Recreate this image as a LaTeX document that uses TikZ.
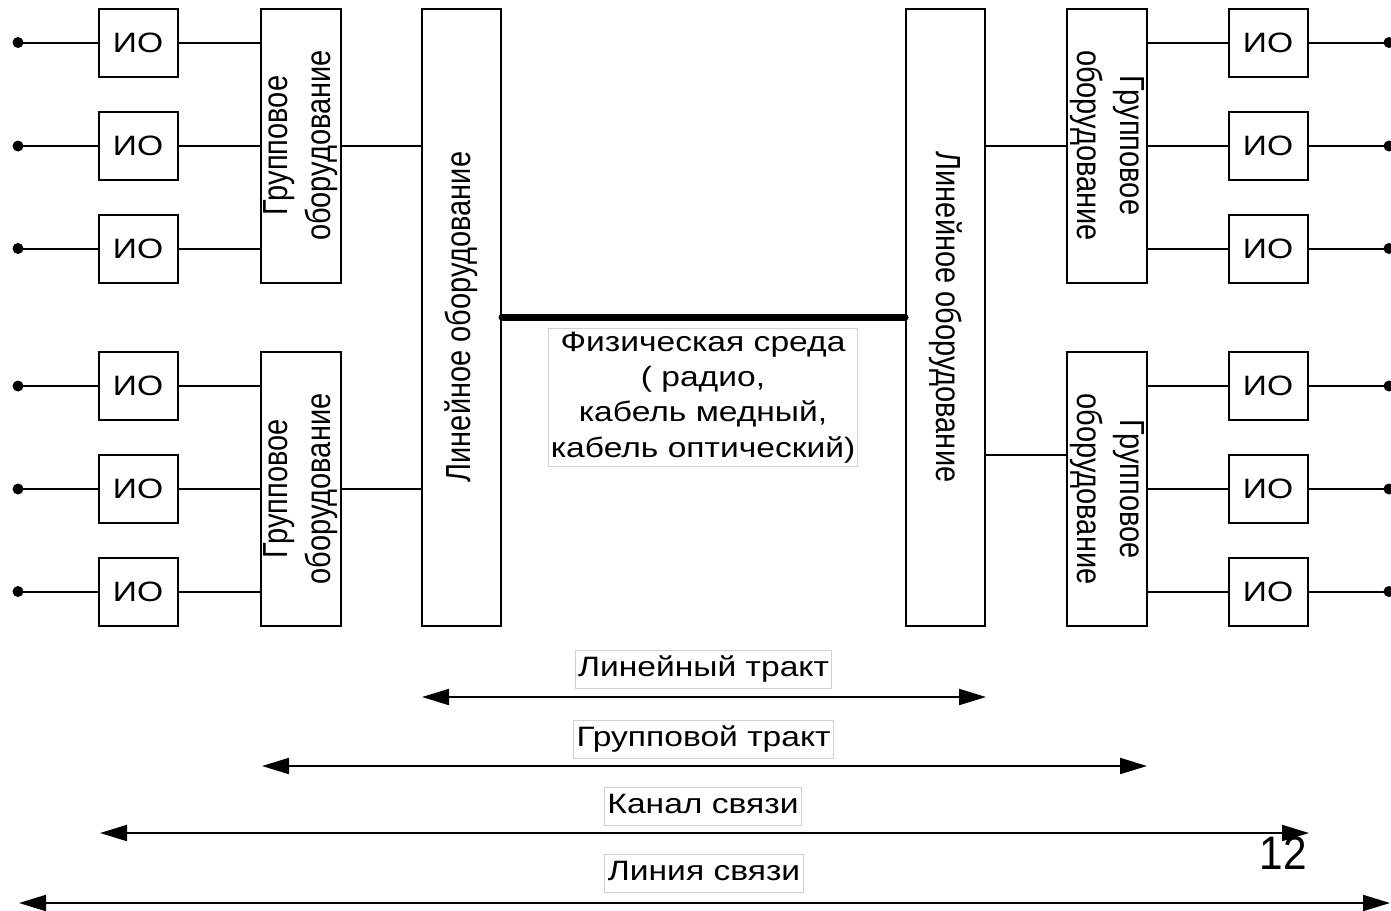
\documentclass[tikz,border=0pt]{standalone}
\usepackage{fontspec}
\usepackage{graphicx}
\setmainfont{Liberation Sans}
\newfontfamily\hfont[FakeStretch=1.2]{Liberation Sans}
\usetikzlibrary{arrows.meta}
\newcommand{\vtwo}[2]{\scalebox{1}[1.2]{\rmfamily\fontsize{29}{36}\selectfont\vbox{\baselineskip=36pt\halign{\hfil##\hfil\cr #1\cr #2\cr}}}}
\newcommand{\vone}[1]{\scalebox{1}[1.2]{\rmfamily\fontsize{29}{36}\selectfont #1}}
\begin{document}
\begin{tikzpicture}[x=1pt,y=-1pt,
 box/.style={draw, line width=2pt, inner sep=0pt, font=\hfont\fontsize{28}{32}\selectfont},
 io/.style={box, minimum width=79pt, minimum height=68pt},
 grp/.style={box, minimum width=80pt, minimum height=274pt},
 lin/.style={box, minimum width=79pt, minimum height=617pt},
 wire/.style={line width=2pt},
 thick wire/.style={line width=7pt, line cap=round},
 dot/.style={circle, fill, inner sep=0pt, minimum size=11pt},
 lbl/.style={draw=black!18, line width=1pt, fill=white, font=\hfont\fontsize{28}{34}\selectfont, inner xsep=3pt, inner ysep=6pt, text height=20pt, text depth=6pt},
 phys/.style={draw=black!18, line width=1pt, fill=white, align=center, font=\hfont\fontsize{28}{35.3}\selectfont, inner xsep=2pt, inner ysep=3.3pt},
 dim/.style={line width=2pt, {Triangle[length=27pt,width=16pt]}-{Triangle[length=27pt,width=16pt]}},
 pagenum/.style={font=\rmfamily\fontsize{47}{50}\selectfont, inner sep=0pt, xscale=0.9},
]
\useasboundingbox (0,0) rectangle (1391,910);
% IO boxes and terminal dots
\foreach \n/\yy in {1/42.5,2/146,3/248.5,4/386,5/489,6/591.5}{
  \node[io] (ioL\n) at (138,\yy) {ИО};
  \node[io] (ioR\n) at (1268,\yy) {ИО};
  \node[dot] (dL\n) at (18,\yy) {};
  \node[dot] (dR\n) at (1389,\yy) {};
}
% group equipment
\node[grp] (gL1) at (300.5,145.5) {\rotatebox{90}{\vtwo{Групповое}{оборудование}}};
\node[grp] (gL2) at (300.5,489) {\rotatebox{90}{\vtwo{Групповое}{оборудование}}};
\node[grp] (gR1) at (1107,145.5) {\rotatebox{-90}{\vtwo{Групповое}{оборудование}}};
\node[grp] (gR2) at (1107,489) {\rotatebox{-90}{\vtwo{Групповое}{оборудование}}};
% line equipment
\node[lin] (linL) at (461.5,317) {\rotatebox{90}{\vone{Линейное оборудование}}};
\node[lin] (linR) at (945.5,317) {\rotatebox{-90}{\vone{Линейное оборудование}}};
% wiring
\foreach \n/\g in {1/gL1,2/gL1,3/gL1,4/gL2,5/gL2,6/gL2}{
  \draw[wire] (dL\n.center) -- (ioL\n.west);
  \draw[wire] (ioL\n.east) -- (ioL\n.east -| \g.west);
}
\foreach \n/\g in {1/gR1,2/gR1,3/gR1,4/gR2,5/gR2,6/gR2}{
  \draw[wire] (ioR\n.east) -- (dR\n.center);
  \draw[wire] (ioR\n.west) -- (ioR\n.west -| \g.east);
}
\draw[wire] (gL1.east) -- (gL1.east -| linL.west);
\draw[wire] (gL2.east) -- (gL2.east -| linL.west);
\draw[wire] (gR1.west) -- (gR1.west -| linR.east);
\coordinate (jR2) at (0,455);
\draw[wire] (gR2.west |- jR2) -- (linR.east |- jR2);
% physical medium
\draw[thick wire] (linL.east) -- (linR.west);
\node[phys] (med) at (703,397.5) {Физическая среда\\( радио,\\кабель медный,\\кабель оптический)};
% spans
\coordinate (a1l) at (422,697);  \coordinate (a1r) at (986,697);
\coordinate (a2l) at (262,766);  \coordinate (a2r) at (1147,766);
\coordinate (a3l) at (100,833);  \coordinate (a3r) at (1309,833);
\coordinate (a4l) at (19,903);   \coordinate (a4r) at (1390,903);
\draw[dim] (a1l) -- (a1r);
\draw[dim] (a2l) -- (a2r);
\draw[dim] (a3l) -- (a3r);
\draw[dim] (a4l) -- (a4r);
\node[lbl] (t1) at (703.5,669) {Линейный тракт};
\node[lbl] (t2) at (703.5,739) {Групповой тракт};
\node[lbl] (t3) at (703,806.5) {Канал связи};
\node[lbl] (t4) at (704,873.5) {Линия связи};
\node[pagenum] (pg) at (1283,853) {12};
\end{tikzpicture}
\end{document}
